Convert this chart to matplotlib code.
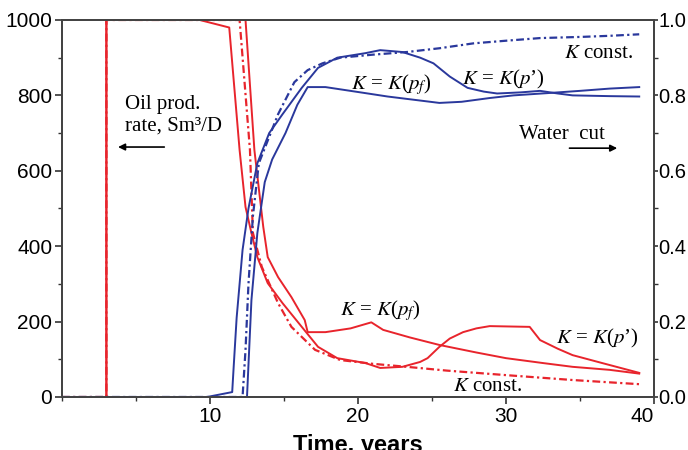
import matplotlib
matplotlib.use("Agg")
import matplotlib.pyplot as plt
from matplotlib.ticker import MultipleLocator

plt.rcParams["font.family"] = ["Liberation Sans", "DejaVu Sans"]
plt.rcParams["mathtext.fontset"] = "stix"

RED = "#e8242c"
BLUE = "#2a389c"
SERIF = ["Liberation Serif", "DejaVu Serif"]

# oil production rate, Sm3/D (left axis)
oil_pf_t = [0, 3, 3, 12.4, 13.0, 13.6, 13.9, 14.6, 15.5, 16.4, 16.6, 17.8, 19.5,
            20.9, 21.7, 23.5, 25.5, 28, 30, 32.5, 34.5, 37, 39]
oil_pf = [0, 0, 1000, 1000, 655, 451, 371, 318, 265, 204, 172, 172, 182,
          198, 178, 158, 138, 118, 103, 90, 80, 72, 62]

oil_pp_t = [0, 3, 3, 9.3, 11.3, 12.0, 12.4, 12.8, 13.2, 13.9, 14.9, 16.2, 17.3,
            18.6, 20.5, 21.5, 23, 24.2, 24.7, 25.5, 26.2, 27.1, 28, 28.9, 31.6,
            32.3, 33.5, 34.5, 36.5, 39]
oil_pp = [0, 0, 1000, 1000, 980, 655, 504, 435, 371, 302, 249, 186, 133,
          103, 90, 77, 80, 93, 103, 133, 155, 172, 182, 188, 186,
          151, 128, 111, 90, 64]

oil_kc_t = [0, 3, 3, 12.0, 12.7, 12.9, 13.5, 14.6, 15.5, 17.1, 18.8, 21, 23.3,
            26, 30, 34.5, 39]
oil_kc = [0, 0, 1000, 1000, 655, 435, 345, 249, 186, 125, 98, 88, 80,
          70, 58, 45, 34]

# water cut (right axis)
wc_pp_t = [0, 9.8, 11.5, 11.6, 11.8, 12.2, 12.6, 13.2, 14.0, 14.9, 16.2, 17.3,
           18.6, 20.5, 21.5, 23, 24.2, 25.1, 26.2, 27.4, 28.5, 29.4, 31, 32.3,
           33.5, 34.5, 37, 39]
wc_pp = [0, 0, 0.013, 0.08, 0.21, 0.39, 0.50, 0.62, 0.70, 0.75, 0.82, 0.873,
         0.90, 0.912, 0.92, 0.915, 0.90, 0.885, 0.85, 0.82, 0.81, 0.805, 0.808, 0.812,
         0.805, 0.80, 0.798, 0.797]

wc_pf_t = [0, 12.5, 12.8, 13.2, 13.7, 14.2, 15.1, 15.9, 16.6, 17.8, 20.5, 22,
           25.5, 27, 28.9, 30.5, 32.8, 35, 37, 39]
wc_pf = [0, 0, 0.257, 0.435, 0.57, 0.63, 0.70, 0.775, 0.822, 0.822, 0.806, 0.797,
         0.78, 0.783, 0.793, 0.80, 0.806, 0.812, 0.818, 0.822]

wc_kc_t = [0, 12.2, 12.4, 12.6, 12.9, 13.3, 14.6, 15.7, 16.6, 17.6, 18.8, 21,
           23.3, 25.5, 27.8, 30, 32.3, 35, 37, 39]
wc_kc = [0, 0, 0.125, 0.30, 0.48, 0.62, 0.75, 0.835, 0.867, 0.885, 0.90, 0.908,
         0.915, 0.925, 0.938, 0.945, 0.952, 0.955, 0.958, 0.962]

dashdot = (0, (3.5, 1.5, 1, 1.5))

fig = plt.figure(figsize=(6.88, 4.5), dpi=100)
ax = fig.add_axes([0.0901, 0.1178, 0.8605, 0.8378])
ax2 = ax.twinx()

ax.plot(oil_pf_t, oil_pf, color=RED, lw=1.4)
ax.plot(oil_pp_t, oil_pp, color=RED, lw=1.4)
ax.plot(oil_kc_t, oil_kc, color=RED, lw=1.6, ls=dashdot)

ax2.plot(wc_pf_t, wc_pf, color=BLUE, lw=1.4)
ax2.plot(wc_pp_t, wc_pp, color=BLUE, lw=1.4)
ax2.plot(wc_kc_t, wc_kc, color=BLUE, lw=1.6, ls=dashdot)

ax.set_xlim(0, 40)
ax.set_ylim(0, 1000)
ax2.set_ylim(0, 1)

ax.set_xticks([10, 20, 30, 40])
ax.xaxis.set_minor_locator(MultipleLocator(5))
ax.set_yticks([0, 200, 400, 600, 800, 1000])
ax.yaxis.set_minor_locator(MultipleLocator(100))
ax2.set_yticks([0, 0.2, 0.4, 0.6, 0.8, 1.0])
ax2.set_yticklabels(["0.0", "0.2", "0.4", "0.6", "0.8", "1.0"])
ax2.yaxis.set_minor_locator(MultipleLocator(0.1))

for a in (ax, ax2):
    a.tick_params(which="major", direction="out", length=5, width=1.2,
                  labelsize=15, pad=2, color="#333333")
    a.tick_params(which="minor", direction="out", length=3, width=1.0,
                  color="#333333")
    for s in a.spines.values():
        s.set_color("#444444")
        s.set_linewidth(1.4)
# right-hand labels sit right against the spine
ax2.tick_params(axis="y", which="major", length=3, pad=0, labelsize=14.5)

ax.get_xticklabels()[-1].set_ha("right")

ax.set_xlabel("Time, years", fontsize=17, fontweight="bold", labelpad=6)

# annotations
ax.text(4.26, 800, "Oil prod.\nrate, Sm³/D", family=SERIF, fontsize=15,
        va="top", ha="left", linespacing=1.15)
ax.annotate("", xy=(3.6, 663), xytext=(7.1, 663),
            arrowprops=dict(arrowstyle="-|>", color="black", lw=1.2,
                            mutation_scale=10))
ax2.text(30.9, 0.683, "Water  cut", family=SERIF, fontsize=15,
         va="baseline", ha="left")
ax2.annotate("", xy=(37.7, 0.66), xytext=(34.1, 0.66),
             arrowprops=dict(arrowstyle="-|>", color="black", lw=1.2,
                             mutation_scale=10))

lab_pf = "$K$ = $K$($p_f$)"
lab_pp = "$K$ = $K$($p$’)"
lab_kc = "$K$ const."
ax2.text(19.5, 0.815, lab_pf, family=SERIF, fontsize=15, va="baseline")
ax2.text(27.0, 0.83, lab_pp, family=SERIF, fontsize=15, va="baseline")
ax2.text(33.9, 0.90, lab_kc, family=SERIF, fontsize=15, va="baseline")
ax2.text(18.8, 0.217, lab_pf, family=SERIF, fontsize=15, va="baseline")
ax2.text(33.4, 0.143, lab_pp, family=SERIF, fontsize=15, va="baseline")
ax2.text(26.4, 0.016, lab_kc, family=SERIF, fontsize=15, va="baseline")

fig.savefig("out.png", dpi=100)
